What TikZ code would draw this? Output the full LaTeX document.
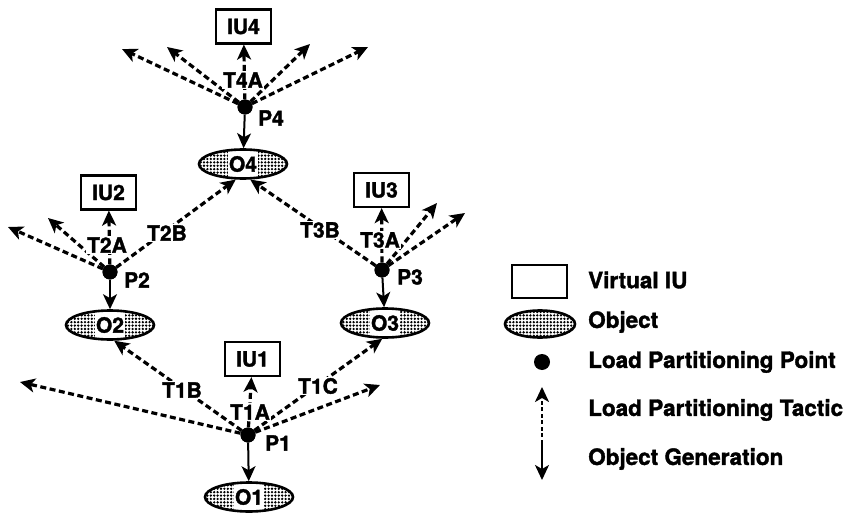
\documentclass[tikz,border=0pt]{standalone}
\usepackage{fontspec}
\setmainfont{TeX Gyre Heros}[BoldFeatures={FakeBold=1.6}]
\usetikzlibrary{arrows.meta,shapes.geometric,patterns}

% dense dot screen used for object ellipses
\pgfdeclarepatternformonly{objdots}{\pgfqpoint{-1.5pt}{-1.5pt}}{\pgfqpoint{1.5pt}{1.5pt}}{\pgfqpoint{3.4pt}{3.4pt}}{%
  \pgfpathcircle{\pgfqpoint{0pt}{0pt}}{1.3pt}\pgfusepath{fill}}

\tikzset{
  lblfont/.style={font=\fontsize{21}{21}\selectfont\bfseries},
  iubox/.style={draw, line width=2.2pt, minimum width=55pt, minimum height=34pt,
    inner sep=0pt, lblfont},
  objell/.style={ellipse, draw, line width=2.6pt, minimum width=88pt, minimum height=29pt,
    inner sep=0pt, pattern=objdots, lblfont,
    path picture={\fill[white] ([xshift=-15pt]path picture bounding box.south)
      rectangle ([xshift=15pt]path picture bounding box.north);}},
  lpp/.style={circle, fill, inner sep=0pt, minimum size=15pt},
  tip/.style={-{Stealth[length=15pt,width=14pt,inset=4pt]}},
  tactic/.style={tip, line width=3.2pt, dash pattern=on 6pt off 3.5pt},
  gen/.style={tip, line width=2pt},
  tlbl/.style={lblfont, fill=white, inner sep=1pt},
  plbl/.style={lblfont, inner sep=0pt},
  legtext/.style={anchor=west, inner sep=0pt, font=\fontsize{22.5}{22.5}\selectfont\bfseries},
}

\begin{document}
\begin{tikzpicture}[x=1pt,y=-1pt]
\useasboundingbox (0,0) rectangle (854,516);

% ---- interaction units, objects and partitioning points
\node[iubox] (iu4) at (243.5,26.5) {IU4};
\node[iubox] (iu2) at (108.5,192.5) {IU2};
\node[iubox] (iu3) at (381.5,190) {IU3};
\node[iubox] (iu1) at (252.5,359) {IU1};

\node[objell] (o4) at (243,164) {O4};
\node[objell] (o2) at (110,325) {O2};
\node[objell] (o3) at (385,323) {O3};
\node[objell] (o1) at (249,497) {O1};

\node[lpp] (p4) at (245,107) {};
\node[lpp] (p2) at (110,272) {};
\node[lpp] (p3) at (382,270) {};
\node[lpp] (p1) at (248,435) {};

% free ends of the tactic arrows
\coordinate (e4a) at (122,49);
\coordinate (e4b) at (167,47);
\coordinate (e4c) at (310,44);
\coordinate (e4d) at (368,47);
\coordinate (e2a) at (8,227);
\coordinate (e2b) at (48,218);
\coordinate (e3a) at (437,203);
\coordinate (e3b) at (465,213);
\coordinate (e1a) at (20,382);
\coordinate (e1b) at (380,385);

% ---- tactics (dashed) and object generation (solid)
\draw[tactic] (p4) -- (e4a);
\draw[tactic] (p4) -- (e4b);
\draw[tactic] (p4) -- (iu4);
\draw[tactic] (p4) -- (e4c);
\draw[tactic] (p4) -- (e4d);
\draw[gen] (p4) -- (o4);

\draw[tactic] (p2) -- (e2a);
\draw[tactic] (p2) -- (e2b);
\draw[tactic] (p2) -- (iu2);
\draw[tactic] (p2) -- (o4.-115);
\draw[gen] (p2) -- (o2);

\draw[tactic] (p3) -- (iu3);
\draw[tactic] (p3) -- (e3a);
\draw[tactic] (p3) -- (e3b);
\draw[tactic] (p3) -- (o4.-65);
\draw[gen] (p3) -- (o3);

\draw[tactic] (p1) -- (e1a);
\draw[tactic] (p1) -- (o2.-75);
\draw[tactic] (p1) -- (iu1);
\draw[tactic] (p1) -- (o3.-100);
\draw[tactic] (p1) -- (e1b);
\draw[gen] (p1) -- (o1);

% redraw points on top of the lines
\fill (p4) circle (7.5pt);
\fill (p2) circle (7.5pt);
\fill (p3) circle (7.5pt);
\fill (p1) circle (7.5pt);

% ---- tactic labels
\node[tlbl] (t4a) at (243,80) {T4A};
\node[tlbl] (t2a) at (107,245) {T2A};
\node[tlbl] (t2b) at (167,233) {T2B};
\node[tlbl] (t3a) at (380,240) {T3A};
\node[tlbl] (t3b) at (320,230) {T3B};
\node[tlbl] (t1a) at (250,412) {T1A};
\node[tlbl] (t1b) at (182,390) {T1B};
\node[tlbl] (t1c) at (318,386) {T1C};

% ---- point labels
\node[plbl] (lp4) at (271,118) {P4};
\node[plbl] (lp2) at (137,280) {P2};
\node[plbl] (lp3) at (410,277) {P3};
\node[plbl] (lp1) at (278,443) {P1};

% ---- legend
\node[iubox, minimum width=55pt, minimum height=33pt] (kiu) at (539.5,281.5) {};
\node[objell, minimum width=70pt, minimum height=27pt, path picture={}] (kobj) at (540,324) {};
\node[lpp, minimum size=16pt] (kpt) at (542,362) {};
\coordinate (ktb) at (542,437);
\coordinate (ktt) at (542,387);
\coordinate (kgt) at (542,440);
\coordinate (kgb) at (542,480);
\draw[tactic, line width=2.4pt, dash pattern=on 4pt off 2.5pt] (ktb) -- (ktt);
\draw[gen] (kgt) -- (kgb);

\node[legtext] (lt1) at (588,280) {Virtual IU};
\node[legtext] (lt2) at (588,322) {Object};
\node[legtext] (lt3) at (588,362) {Load Partitioning Point};
\node[legtext] (lt4) at (588,410) {Load Partitioning Tactic};
\node[legtext] (lt5) at (588,459) {Object Generation};
\end{tikzpicture}
\end{document}
